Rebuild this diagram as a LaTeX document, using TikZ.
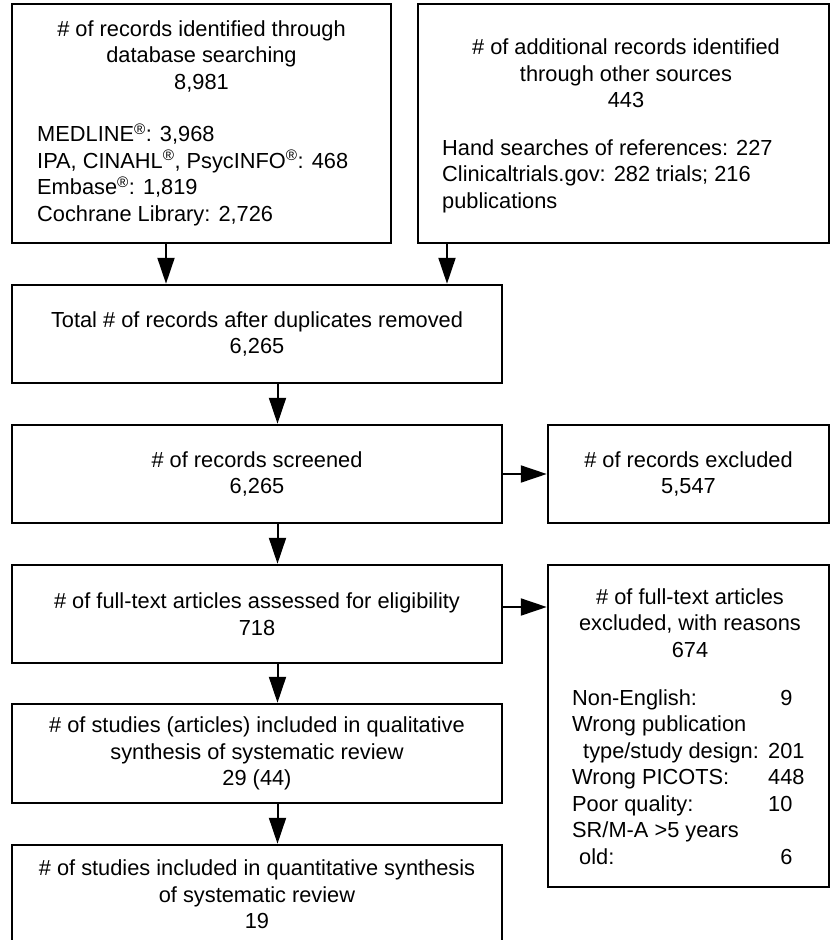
\documentclass[tikz,border=0pt]{standalone}
\usepackage{fontspec}
\setmainfont{Liberation Sans}
\usetikzlibrary{arrows.meta}
\newcommand\rmark{\textsuperscript{\textregistered}}
\newcommand\lcol[1]{\makebox[196pt][l]{#1}}
\newcommand\fsz{\fontsize{21.8pt}{26.5pt}\selectfont}
\tikzset{
  box/.style={draw, line width=2.5pt, rectangle, inner sep=0pt, align=center, font=\fsz},
  txt/.style={inner sep=0pt, font=\fsz},
  arr/.style={line width=2pt, -{Triangle[length=26pt,width=17pt]}},
}
\begin{document}
\begin{tikzpicture}[x=1pt,y=-1pt]
\useasboundingbox (0,0) rectangle (831,940);
% boxes
\node[box, minimum width=379pt, minimum height=239pt] (A) at (201.5,123.5) {};
\node[box, minimum width=411pt, minimum height=239pt] (B) at (623.5,123.5) {};
\node[box, minimum width=490pt, minimum height=98pt] (C) at (257,334) {Total \# of records after duplicates removed\\6,265};
\node[box, minimum width=490pt, minimum height=98pt] (D) at (257,474) {\# of records screened\\6,265};
\node[box, minimum width=281pt, minimum height=98pt] (E) at (688.5,474) {\# of records excluded\\5,547};
\node[box, minimum width=490pt, minimum height=98pt] (F) at (257,614) {\# of full-text articles assessed for eligibility\\718};
\node[box, minimum width=281pt, minimum height=322pt] (I) at (688.5,726) {};
\node[box, minimum width=490pt, minimum height=99pt] (G) at (257,753.5) {\# of studies (articles) included in qualitative\\synthesis of systematic review\\29 (44)};
\node[box, minimum width=490pt, minimum height=99pt] (H) at (257,894.5) {\# of studies included in quantitative synthesis\\of systematic review\\19};
% texts inside the big boxes
\node[txt, align=center] (Ah) at (201.5,56) {\# of records identified through\\database searching\\8,981};
\node[txt, align=left, anchor=west] (Al) at (37,174.5) {MEDLINE\rmark: 3,968\\IPA, CINAHL\rmark, PsycINFO\rmark: 468\\Embase\rmark: 1,819\\Cochrane Library: 2,726};
\node[txt, align=center] (Bh) at (626,73.5) {\# of additional records identified\\through other sources\\443};
\node[txt, align=left, anchor=west] (Bl) at (442,176) {Hand searches of references: 227\\Clinicaltrials.gov: 282 trials; 216\\publications};
\node[txt, align=center] (Ih) at (690,623) {\# of full-text articles\\excluded, with reasons\\674};
\node[txt, align=left, anchor=west] (Il) at (572,777) {\lcol{Non-English:}\hphantom{0}9\\Wrong publication\\\lcol{\hspace*{11pt}type/study design:}201\\\lcol{Wrong PICOTS:}448\\\lcol{Poor quality:}10\\SR/M-A >5 years\\\lcol{\hspace*{7pt}old:}\hphantom{0}6};
% connectors
\coordinate (xac) at (166,0);
\coordinate (xbc) at (447,0);
\coordinate (xv) at (277.5,0);
\coordinate (yfi) at (0,607);
\draw[arr] (A.south -| xac) -- (C.north -| xac);
\draw[arr] (B.south -| xbc) -- (C.north -| xbc);
\draw[arr] (C.south -| xv) -- (D.north -| xv);
\draw[arr] (D.south -| xv) -- (F.north -| xv);
\draw[arr] (F.south -| xv) -- (G.north -| xv);
\draw[arr] (G.south -| xv) -- (H.north -| xv);
\draw[arr] (D.east) -- (E.west);
\draw[arr] (F.east |- yfi) -- (I.west |- yfi);
\end{tikzpicture}
\end{document}
